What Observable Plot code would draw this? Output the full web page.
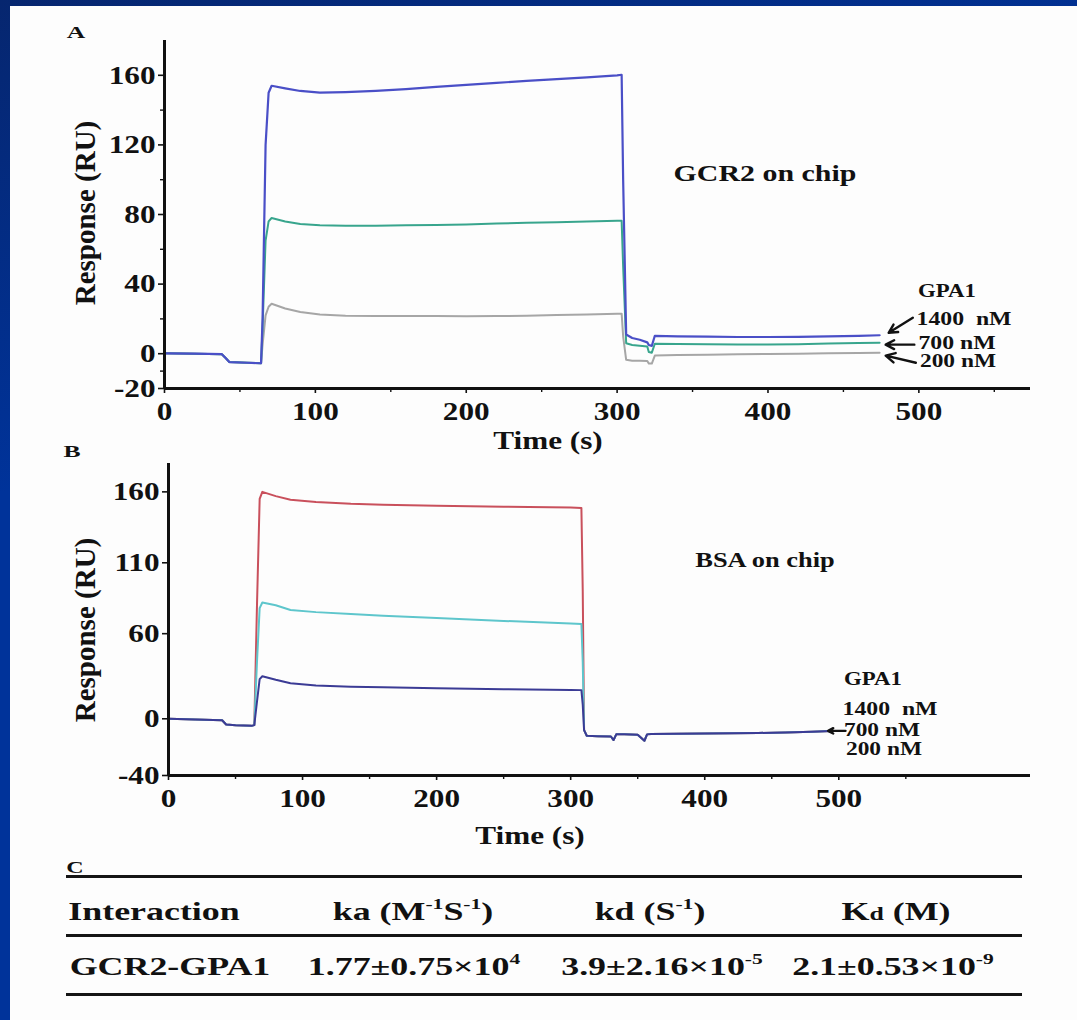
<!DOCTYPE html>
<html><head><meta charset="utf-8">
<script src="https://cdn.jsdelivr.net/npm/d3@7"></script>
<script src="https://cdn.jsdelivr.net/npm/@observablehq/plot@0.6"></script>
<style>
html,body{margin:0;padding:0;}
body{width:1077px;height:1020px;overflow:hidden;position:relative;
 background:linear-gradient(160deg,#06266f 0%,#00339a 35%,#00339a 100%);
 font-family:"Liberation Serif","Times New Roman",serif;color:#111;}
#page{position:absolute;left:10px;top:6px;right:0;bottom:0;background:#fdfdfd;}
.t{position:absolute;white-space:nowrap;font-weight:bold;line-height:1;}
.t sup{font-size:0.6em;vertical-align:0.7em;line-height:0;}
.hl{position:absolute;left:66px;width:956px;height:3px;background:#151515;}
</style></head><body>
<div id="page"></div>
<script>
// ---------- Panel A: GCR2 on chip ----------
const timeA = [0, 20, 38, 40, 43, 55, 64, 65, 67, 69, 71, 80, 90, 103, 120, 140, 160, 180, 200, 220, 240, 260, 280, 300, 303, 304, 306, 310, 315, 320, 321, 323, 325, 340, 360, 380, 400, 420, 440, 460, 474];
const a1400 = [0.2, 0, -0.3, -2, -4.8, -5.2, -5.5, 20, 120, 150, 154, 152.5, 151, 150, 150.3, 151, 152, 153.3, 154.5, 155.6, 156.8, 157.8, 158.8, 160, 160.3, 100, 11, 9, 8, 6.5, 5, 4.5, 10.3, 10, 9.8, 9.6, 9.6, 9.7, 10, 10.3, 10.6];
const a700 = [0.2, 0, -0.3, -2, -4.8, -5.2, -5.5, 15, 65, 76, 78, 76, 74.5, 73.8, 73.6, 73.6, 73.8, 74, 74.3, 74.8, 75.2, 75.6, 76, 76.4, 76.4, 50, 6, 5, 4.6, 4.2, 1, 0.6, 5.7, 5.6, 5.4, 5.3, 5.3, 5.5, 5.8, 6.1, 6.3];
const a200 = [0.2, 0, -0.3, -2, -4.8, -5.2, -5.5, 5, 22, 27, 28.7, 26, 24, 22.5, 21.8, 21.6, 21.6, 21.6, 21.5, 21.6, 21.8, 22.2, 22.6, 23, 23, 10, -3.5, -4, -4, -4.2, -5.7, -5.7, -1.1, -0.8, -0.6, -0.3, -0.2, 0, 0.2, 0.4, 0.6];
const yTicksA = [-20, 0, 40, 80, 120, 160];
const yMinorA = [-10, 20, 60, 100, 140];
const xTicks = [0, 100, 200, 300, 400, 500];
const xMinor = [50, 150, 250, 350, 450, 550];
// annotation arrows (data units)
const arrA_x1 = [496, 497, 498], arrA_y1 = [20.7, 5.2, -5.2];
const arrA_x2 = [480, 478, 478], arrA_y2 = [12, 5.2, -1.1];

// ---------- Panel B: BSA on chip ----------
const timeB = [0, 20, 40, 43, 50, 62, 64, 66, 68, 70, 80, 91, 110, 136, 160, 200, 250, 300, 308, 309, 310, 312, 320, 330, 332, 334, 340, 350, 355, 357, 360, 380, 400, 420, 440, 460, 480, 494];
const b1400 = [0, -0.5, -1, -4, -4.5, -5, -4.5, 80, 155, 160, 157, 154.5, 152.8, 151.6, 151, 150.2, 149.5, 149, 148.6, 90, -8, -12, -12.3, -12.5, -15, -11, -11, -11.2, -15.5, -11, -10.8, -10.6, -10.4, -10.2, -10, -9.6, -9.2, -8.7];
const b700 = [0, -0.5, -1, -4, -4.5, -5, -4.5, 40, 78, 82, 80, 76.7, 75.2, 73.9, 72.6, 71, 69, 67.2, 66.8, 40, -8, -12, -12.3, -12.5, -15, -11, -11, -11.2, -15.5, -11, -10.8, -10.6, -10.4, -10.2, -10, -9.6, -9.2, -8.7];
const b200 = [0, -0.5, -1, -4, -4.5, -5, -4.5, 12, 28, 30, 27.5, 25, 23.5, 22.6, 22.2, 21.6, 20.8, 20.3, 20.2, 10, -8, -12, -12.3, -12.5, -15, -11, -11, -11.2, -15.5, -11, -10.8, -10.6, -10.4, -10.2, -10, -9.6, -9.2, -8.7];
const yTicksB = [-40, 0, 60, 110, 160];
const arrB_x1 = [505], arrB_y1 = [-8.5], arrB_x2 = [492], arrB_y2 = [-8.5];

// ---------- Panel C table ----------
const tableHeader = ["Interaction", "ka (M<sup>-1</sup>S<sup>-1</sup>)", "kd (S<sup>-1</sup>)", "K<span style='font-size:0.72em'>d</span> (M)"];
const tableRow = ["GCR2-GPA1", "1.77\u00b10.75\u00d710<sup>4</sup>", "3.9\u00b12.16\u00d710<sup>-5</sup>", "2.1\u00b10.53\u00d710<sup>-9</sup>"];

const FONT = "'Liberation Serif','Times New Roman',serif";
const fmt = d => String(d);

function axes(yt, ym) {
  const m = [
    Plot.axisY({ticks: yt, tickFormat: fmt, tickSize: 6, tickPadding: 3, fontSize: 26, fontWeight: "bold", strokeWidth: 1.6, label: null}),
    Plot.axisX({ticks: xTicks, tickFormat: fmt, tickSize: 5, tickPadding: 8, fontSize: 26, fontWeight: "bold", strokeWidth: 1.6, label: null}),
    Plot.axisX({ticks: xMinor, tickSize: 4, tickFormat: () => "", strokeWidth: 1.4, label: null})
  ];
  if (ym) m.push(Plot.axisY({ticks: ym, tickSize: 4, tickFormat: () => "", strokeWidth: 1.4, label: null}));
  return m;
}
function series(t, v, c, w) {
  return Plot.line(t, {x: d => d, y: (d, i) => v[i], stroke: c, strokeWidth: w});
}
function arrows(x1, y1, x2, y2) {
  return Plot.arrow(d3.range(x1.length), {x1: i => x1[i], y1: i => y1[i], x2: i => x2[i], y2: i => y2[i],
    stroke: "#111", strokeWidth: 2.4, headLength: 9, headAngle: 55});
}
function stretchText(svg, s) {
  svg.querySelectorAll("text").forEach(t => {
    const tr = t.getAttribute("transform");
    if (tr) t.setAttribute("transform", tr + ` scale(${s},1)`);
  });
}

const plotA = Plot.plot({
  width: 1067, height: 460, marginLeft: 154, marginRight: 47, marginTop: 34, marginBottom: 78,
  x: {domain: [0, 574]}, y: {domain: [-20, 180]},
  style: {background: "transparent", fontFamily: FONT, color: "#111", overflow: "visible"},
  marks: [
    ...axes(yTicksA, yMinorA),
    series(timeA, a200, "#a6a6a6", 2),
    series(timeA, a700, "#38a58d", 2),
    series(timeA, a1400, "#4a4fc7", 2.2),
    Plot.ruleX([0], {strokeWidth: 3, stroke: "#111"}),
    Plot.ruleY([-20], {strokeWidth: 3, stroke: "#111"}),
    arrows(arrA_x1, arrA_y1, arrA_x2, arrA_y2)
  ]
});
stretchText(plotA, 1.2);
Object.assign(plotA.style, {position: "absolute", left: "10px", top: "6px"});
document.body.appendChild(plotA);

const plotB = Plot.plot({
  width: 1067, height: 400, marginLeft: 158, marginRight: 47, marginTop: 13, marginBottom: 75,
  x: {domain: [0, 643]}, y: {domain: [-40, 180]},
  style: {background: "transparent", fontFamily: FONT, color: "#111", overflow: "visible"},
  marks: [
    ...axes(yTicksB, null),
    series(timeB, b1400, "#c9505c", 2),
    series(timeB, b700, "#5ec6cc", 2),
    series(timeB, b200, "#3b3b95", 2),
    Plot.ruleX([0], {strokeWidth: 3, stroke: "#111"}),
    Plot.ruleY([-40], {strokeWidth: 3, stroke: "#111"}),
    arrows(arrB_x1, arrB_y1, arrB_x2, arrB_y2)
  ]
});
stretchText(plotB, 1.2);
Object.assign(plotB.style, {position: "absolute", left: "10px", top: "450px"});
document.body.appendChild(plotB);

function place(html, x, y, size, sx, rot) {
  const d = document.createElement("div");
  d.className = "t";
  d.innerHTML = html;
  d.style.left = x + "px";
  d.style.top = y + "px";
  d.style.fontSize = size + "px";
  d.style.transform = `translate(-50%,-50%)${rot ? ` rotate(${rot}deg)` : ""} scaleX(${sx})`;
  document.body.appendChild(d);
}
// panel letters
place("A", 76, 33, 16, 1.6);
place("B", 72, 452, 16, 1.6);
place("C", 75, 868, 16, 1.5);
// axis titles
place("Response (RU)", 85, 213, 29, 1, -90);
place("Response (RU)", 85, 630, 29, 1, -90);
place("Time (s)", 548, 441, 26, 1.2);
place("Time (s)", 530, 836, 26, 1.2);
// in-plot labels
place("GCR2 on chip", 765, 173, 23, 1.3);
place("BSA on chip", 765, 560, 22, 1.2);
place("GPA1", 947, 290, 19, 1.2);
place("1400&nbsp;&nbsp;nM", 964, 318, 19, 1.25);
place("700 nM", 957, 342, 19, 1.25);
place("200 nM", 958, 361, 18, 1.3);
place("GPA1", 873, 678, 19, 1.2);
place("1400&nbsp;&nbsp;nM", 890, 708, 19, 1.25);
place("700 nM", 882, 730, 18, 1.3);
place("200 nM", 884, 749, 18, 1.3);
// table
[875, 934, 993].forEach(y => {
  const l = document.createElement("div");
  l.className = "hl"; l.style.top = y + "px";
  document.body.appendChild(l);
});
const colX = [154, 413, 650, 896];
const rowX = [170, 414, 662, 893];
tableHeader.forEach((h, i) => place(h, colX[i], 912, 26, 1.38));
tableRow.forEach((h, i) => place(h, rowX[i], 967, 26, 1.38));
</script>
</body></html>
